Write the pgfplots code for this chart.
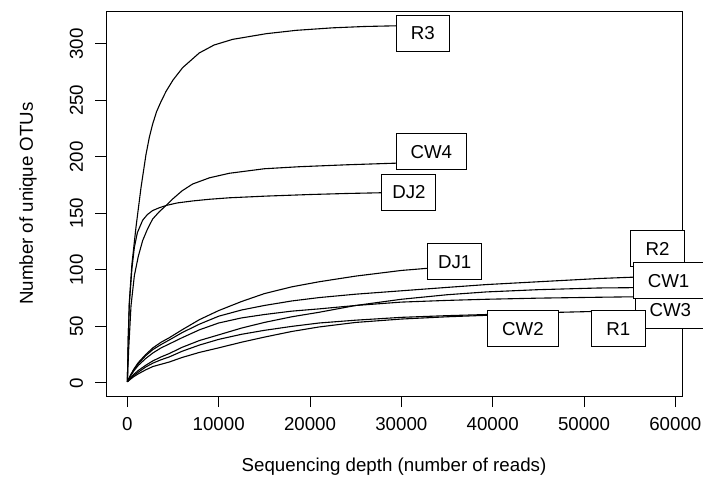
\documentclass[border=0pt]{standalone}
\usepackage{fontspec}
\setmainfont{Liberation Sans}
\usepackage{pgfplots}
\pgfplotsset{compat=1.18}

\begin{document}
\fontsize{18.7}{22}\selectfont
\begin{tikzpicture}[x=1pt,y=1pt]
\begin{axis}[
  at={(106pt,86pt)}, anchor=south west,
  width=576pt, height=385pt, scale only axis,
  xmin=-2336, xmax=60730, ymin=-11.6, ymax=329.1,
  xtick={0,10000,20000,30000,40000,50000,60000},
  ytick={0,50,100,150,200,250,300},
  scaled x ticks=false,
  /pgf/number format/assume math mode=true,
  /pgf/number format/1000 sep={},
  tick pos=left, tick align=outside, major tick length=11pt,
  tick style={black, line width=0.9pt},
  axis line style={black, line width=0.9pt},
  xticklabel style={anchor=north, inner sep=0pt, text height=13.4pt, text depth=0pt},
  yticklabel style={rotate=90, anchor=south, inner sep=0pt, text height=13.4pt, text depth=0pt},
  xticklabel shift=10pt, yticklabel shift=12pt,
  xlabel={Sequencing depth (number of reads)},
  ylabel={Number of unique OTUs},
  xlabel style={at={(axis description cs:0.5,-0.1844)}, anchor=center, inner sep=0pt},
  ylabel style={at={(axis description cs:-0.1354,0.5)}, anchor=center, inner sep=0pt},
  cycle list={{black, solid}},
  every axis plot/.append style={line width=1.1pt, line join=round},
  clip=false,
]
% R3
\addplot coordinates {(1,1)(100,40)(220,72)(500,105)(950,138)(1500,173)(2040,202)(2400,217)(2770,229)(3200,240)(3690,249)(4240,258)(5000,268)(6060,279)(7880,292)(9500,299)(11530,304)(15190,309)(18500,312)(22480,314.2)(26000,315.4)(29400,316)(32300,316.5)};
% CW4
\addplot coordinates {(1,1)(150,30)(400,68)(770,95)(1200,112)(1680,126)(2200,136)(2770,145)(3500,151.5)(4240,157)(5000,163)(6000,170)(7150,176)(9000,181.5)(11170,185.5)(15000,189.5)(18830,191.3)(24000,193)(29230,194.4)(33000,195)};
% DJ2
\addplot coordinates {(1,1)(100,40)(220,70)(500,101)(770,120)(1100,133)(1680,144)(2200,149)(2770,152.5)(3500,155)(4240,157)(5500,159.3)(7150,161)(9000,162.5)(11170,163.8)(15190,165.3)(20000,166.7)(23950,167.6)(28000,168.3)(30800,168.6)};
% DJ1
\addplot coordinates {(1,1)(300,6)(700,12)(1200,18)(2000,25)(2800,31)(3700,36)(4600,40)(6000,47)(7900,56)(10000,64)(12500,72)(15000,79)(18000,85)(21000,89.5)(25000,94.5)(30000,99.5)(33000,101.5)(35800,102.5)};
% R2
\addplot coordinates {(1,1)(300,6)(700,11.5)(1200,17)(2000,24)(2800,29.5)(3700,34)(4600,38)(6000,44.5)(7900,52)(10000,59)(12500,64.5)(15000,68.5)(18000,72.5)(21000,75.5)(25000,78.5)(30000,81.5)(35000,84.5)(39300,87)(45000,89.5)(51700,92.4)(58400,94.5)};
% CW3
\addplot coordinates {(1,1)(300,5.5)(700,10.5)(1200,15.5)(2000,21.5)(2800,26.5)(3700,31)(4600,34.5)(6000,40)(7900,47)(10000,53)(12500,57.5)(15000,60.5)(18000,63.5)(21000,65.5)(25000,68.5)(30000,71.5)(35000,73)(39300,74)(45000,75)(51700,75.8)(58400,76.5)};
% CW1
\addplot coordinates {(1,1)(300,4)(700,7.5)(1200,11)(2000,15.5)(2800,19.5)(3700,23)(4600,26)(6000,31.5)(7900,37.5)(10000,42.5)(12500,48.5)(15000,53.5)(18000,58.5)(21000,62.5)(25000,68.5)(30000,74)(35000,78)(39300,80.5)(45000,82.5)(51700,84)(58400,84.5)};
% R1
\addplot coordinates {(1,1)(300,3.5)(700,6.5)(1200,9.5)(2000,14)(2800,17.5)(3700,20.5)(4600,23)(6000,28)(7900,33.5)(10000,38.5)(12500,43)(15000,46.5)(18000,50)(21000,53)(25000,55.5)(30000,58)(35000,59.5)(39300,60.5)(45000,62)(50000,63)(53700,63.8)};
% CW2
\addplot coordinates {(1,1)(300,3)(700,5.5)(1200,8)(2000,11.5)(2800,14.5)(3700,16.5)(4600,18.5)(6000,22.5)(7900,27)(10000,31)(12500,36)(15000,40.5)(18000,45.5)(21000,49.5)(25000,53.5)(30000,56.5)(35000,58.5)(39300,59.8)(43300,60.5)};
% label anchors
\coordinate (lR3) at (axis cs:32340,309.6);
\coordinate (lCW4) at (axis cs:33281,204.6);
\coordinate (lDJ2) at (axis cs:30829,168.7);
\coordinate (lDJ1) at (axis cs:35843,107.6);
\coordinate (lCW2) at (axis cs:43321,48.3);
\coordinate (lR1) at (axis cs:53756,48.3);
\coordinate (lR2) at (axis cs:58048,118.7);
\coordinate (lCW1) at (axis cs:59263,90.3);
\coordinate (lCW3) at (axis cs:59449,64.5);
\end{axis}
\tikzset{lab/.style={draw=black, fill=white, line width=0.9pt, inner sep=0pt,
  minimum height=36pt, text height=13.4pt, text depth=0pt, align=center}}
\node[lab, minimum width=53.5pt] at (lR3) {R3};
\node[lab, minimum width=70.6pt] at (lCW4) {CW4};
\node[lab, minimum width=54pt] at (lDJ2) {DJ2};
\node[lab, minimum width=54pt] at (lDJ1) {DJ1};
\node[lab, minimum width=70.6pt] at (lCW2) {CW2};
\node[lab, minimum width=53.5pt] at (lR2) {R2};
\node[lab, minimum width=70.6pt] at (lCW3) {CW3};
\node[lab, minimum width=70.6pt] at (lCW1) {CW1};
\node[lab, minimum width=53.5pt] at (lR1) {R1};
\pgfresetboundingbox
\useasboundingbox (0,0) rectangle (703,482);
\end{tikzpicture}
\end{document}
